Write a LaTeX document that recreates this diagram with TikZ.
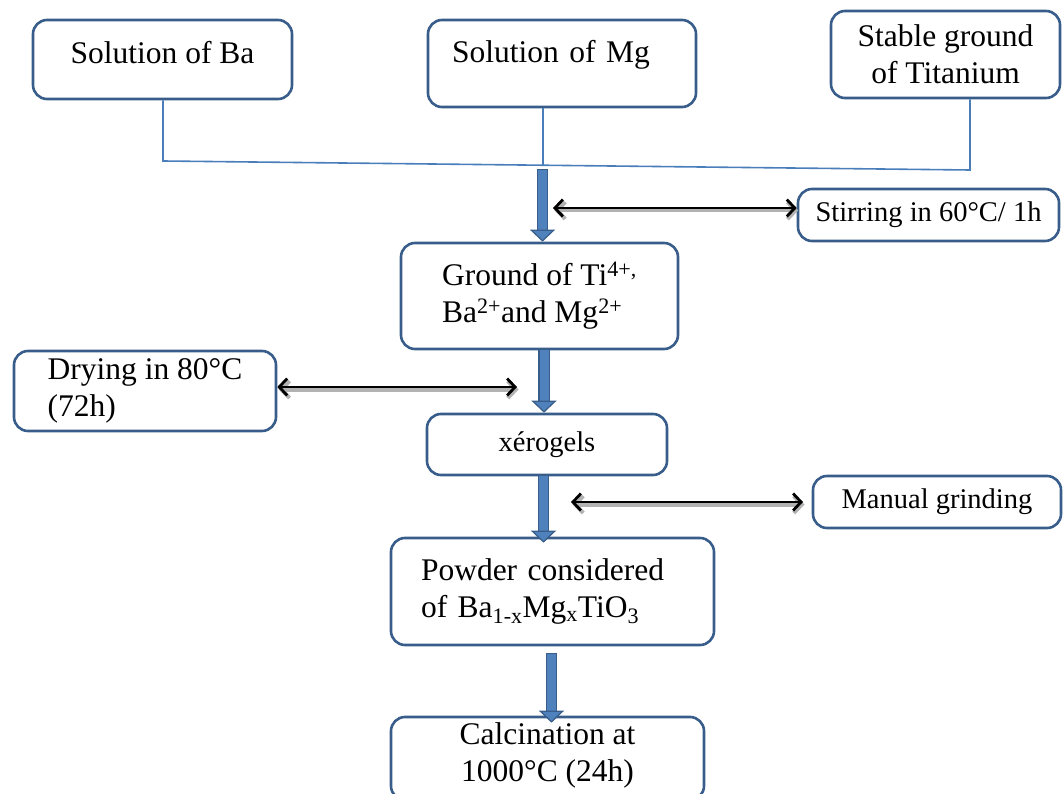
\documentclass[tikz,border=0pt]{standalone}
\usepackage{fontspec}
\setmainfont{Liberation Serif}
\usetikzlibrary{positioning, arrows.meta}
\definecolor{boxblue}{HTML}{385D8A}
\definecolor{arrowblue}{HTML}{4F81BD}
\definecolor{lineblue}{HTML}{4A7EBB}
\tikzstyle{joinline}=[lineblue, line width=1.6pt]
\tikzstyle{twoway}=[black, line width=2.8pt, {Straight Barb[length=8pt,width=17pt]}-{Straight Barb[length=8pt,width=17pt]},
  preaction={draw, black!30, line width=4pt, transform canvas={shift={(1.5pt,-2.5pt)}}}]
\newcommand{\bigtxt}{\fontsize{31.5}{37}\selectfont}
\newcommand{\smalltxt}{\fontsize{28.5}{34}\selectfont}

\begin{document}
\begin{tikzpicture}[x=1pt, y=-1pt]
            \tikzset {
                basic box/.style={
                        draw=boxblue,
                        line width=2.6pt,
                        rounded corners=14pt,
                        align=center,
                        font=\bigtxt
                    },
                small box/.style={basic box, font=\smalltxt},
                blockarrow/.style={
                        arrowblue, line width=9pt,
                        -{Triangle[length=12pt, width=25pt, line width=1.2pt, color=boxblue, fill=arrowblue]},
                        preaction={draw=boxblue, line width=11.5pt, shorten >=11pt, shorten <=-1.2pt, arrows=-}
                    }}
            \useasboundingbox (0,0) rectangle (1063,794);

            % starting solutions
            \node[basic box, minimum width=259pt, minimum height=79pt, text height=26pt, text depth=18pt] (solba) at (162.5,59.5) {Solution of Ba};
            \node[basic box, minimum width=268pt, minimum height=87pt, text height=26pt, text depth=27pt, text width=220pt, align=left] (solmg) at (562,63.5) {Solution of Mg};
            \node[basic box, minimum width=229pt, minimum height=87pt] (stable) at (945.5,54.5) {Stable ground\\of Titanium};

            % joining lines
            \coordinate (jba) at (163,161);
            \coordinate (jmg) at (543,166);
            \coordinate (jti) at (970,170);
            \draw[joinline] (solba.south -| jba) -- (jba) -- (jti) -- (stable.south -| jti);
            \draw[joinline] (solmg.south -| jmg) -- (jmg);

            % main line
            \node[small box, minimum width=261pt, minimum height=52pt] (stir) at (928.5,215) {Stirring in 60°C/ 1h};
            \node[basic box, minimum width=277pt, minimum height=106pt, align=left] (ground) at (539.5,296) {Ground of Ti\textsuperscript{4+,}\\Ba\textsuperscript{2+}and Mg\textsuperscript{2+}};
            \node[basic box, minimum width=262pt, minimum height=80pt, align=left] (drying) at (145,391) {Drying in 80°C\\(72h)};
            \node[small box, minimum width=240pt, minimum height=61pt] (xero) at (547,444.5) {xérogels};
            \node[small box, minimum width=248pt, minimum height=52pt] (grind) at (937,502) {Manual grinding};
            \node[basic box, minimum width=323pt, minimum height=107pt, text width=263pt, align=left] (powder) at (552.5,591.5) {Powder considered\\of Ba\textsubscript{1-x}Mg\textsubscript{x}TiO\textsubscript{3}};
            \node[basic box, minimum width=313pt, minimum height=83pt, text depth=12pt] (calc) at (547.5,758.5) {Calcination at\\1000°C (24h)};

            % block arrows
            \coordinate (a1) at (542.5,170);
            \coordinate (a2) at (544,0);
            \coordinate (a3) at (543.5,0);
            \coordinate (a4) at (551.5,654);
            \draw[blockarrow] (a1) -- (a1 |- ground.north);
            \draw[blockarrow] (ground.south -| a2) -- (xero.north -| a2);
            \draw[blockarrow] (xero.south -| a3) -- ([yshift=-6pt]powder.north -| a3);
            \draw[blockarrow] (a4) -- ([yshift=-7pt]calc.north -| a4);

            % side steps
            \coordinate (d1) at (553,208);
            \coordinate (d2) at (517,387);
            \coordinate (d3) at (571,502);
            \coordinate (d3e) at (803,502);
            \draw[twoway] (d1) -- (d1 -| stir.west);
            \draw[twoway] (d2 -| drying.east) -- (d2);
            \draw[twoway] (d3) -- (d3e);
        \end{tikzpicture}
\end{document}
